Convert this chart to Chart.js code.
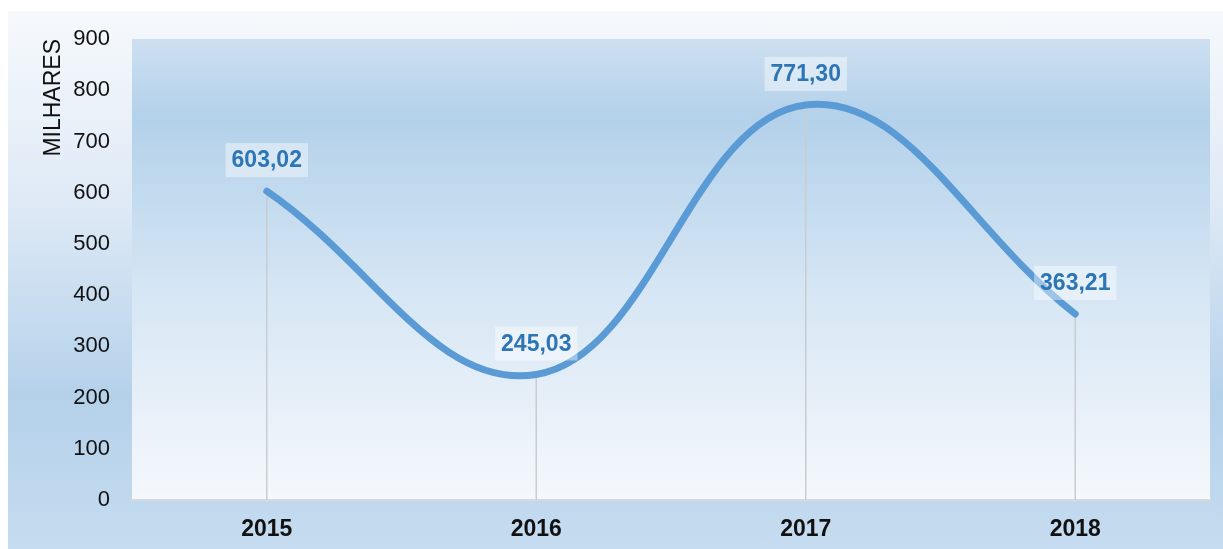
<!DOCTYPE html>
<html>
<head>
<meta charset="utf-8">
<script src="https://cdn.jsdelivr.net/npm/chart.js@4/dist/chart.umd.min.js"></script>
<style>
    html, body { margin: 0; padding: 0; background: #ffffff; }
    #wrap {
        position: absolute; left: 8px; top: 11px; width: 1215px; height: 538px;
        background: linear-gradient(to bottom, #f6f9fc 0%, #dfeaf6 35%, #b4d1ea 72%, #c6dcf0 100%);
    }
    canvas { display: block; }
</style>
</head>
<body>
<div id="wrap"><canvas id="chart" width="1215" height="538"></canvas></div>
<script>
// dados
const years = ['2015', '2016', '2017', '2018'];
const values = [603.02, 245.03, 771.30, 363.21];
const yTicks = [0, 100, 200, 300, 400, 500, 600, 700, 800, 900];

const fmt = v => v.toFixed(2).replace('.', ',');

// fundo da área do gráfico
const plotBg = {
    id: 'plotBg',
    beforeDraw(chart) {
        const { ctx, chartArea: a } = chart;
        const g = ctx.createLinearGradient(0, a.top, 0, a.bottom);
        g.addColorStop(0, '#cde0f1');
        g.addColorStop(0.17, '#b3d1ea');
        g.addColorStop(0.55, '#d6e6f4');
        g.addColorStop(1, '#f5f8fc');
        ctx.save();
        ctx.fillStyle = g;
        ctx.fillRect(a.left, a.top, a.right - a.left, a.bottom - a.top);
        ctx.restore();
    }
};

// linhas verticais até o eixo
const dropLines = {
    id: 'dropLines',
    beforeDatasetsDraw(chart) {
        const { ctx, chartArea: a } = chart;
        const meta = chart.getDatasetMeta(0);
        ctx.save();
        ctx.strokeStyle = '#c9ccd0';
        ctx.lineWidth = 1.5;
        meta.data.forEach(p => {
            ctx.beginPath();
            ctx.moveTo(p.x, p.y);
            ctx.lineTo(p.x, a.bottom);
            ctx.stroke();
        });
        ctx.restore();
    }
};

// rótulos de dados
const dataLabels = {
    id: 'dataLabels',
    afterDatasetsDraw(chart) {
        const { ctx } = chart;
        const meta = chart.getDatasetMeta(0);
        ctx.save();
        ctx.font = 'bold 23px "Liberation Sans", Arial, sans-serif';
        ctx.textAlign = 'center';
        ctx.textBaseline = 'middle';
        meta.data.forEach((p, i) => {
            const txt = fmt(values[i]);
            const w = ctx.measureText(txt).width + 12;
            const h = 34;
            const cy = p.y - 31;
            ctx.fillStyle = 'rgba(255,255,255,0.42)';
            ctx.fillRect(p.x - w / 2, cy - h / 2, w, h);
            ctx.fillStyle = '#2e75b6';
            ctx.fillText(txt, p.x, cy + 1);
        });
        ctx.restore();
    }
};

const ctx = document.getElementById('chart').getContext('2d');
new Chart(ctx, {
    type: 'line',
    data: {
        labels: years,
        datasets: [{
            data: values,
            borderColor: '#5b9bd5',
            borderWidth: 7,
            borderCapStyle: 'round',
            tension: 0.4,
            pointRadius: 0,
            fill: false
        }]
    },
    options: {
        responsive: false,
        animation: false,
        layout: { padding: { left: 0, right: 13, top: 28, bottom: 0 } },
        plugins: {
            legend: { display: false },
            tooltip: { enabled: false }
        },
        scales: {
            x: {
                offset: true,
                grid: { display: false, drawTicks: false },
                border: { display: true, color: '#d9d9d9', width: 2 },
                ticks: {
                    padding: 16,
                    color: '#111',
                    font: { family: '"Liberation Sans", Arial', size: 23, weight: 'bold' }
                },
                afterFit: s => { s.height = 49; }
            },
            y: {
                min: 0,
                max: 900,
                afterBuildTicks: s => { s.ticks = yTicks.map(v => ({ value: v })); },
                grid: { display: false, drawTicks: false },
                border: { display: false },
                ticks: {
                    padding: 22,
                    color: '#111',
                    font: { family: '"Liberation Sans", Arial', size: 22 }
                },
                title: {
                    display: true,
                    text: 'MILHARES',
                    align: 'end',
                    color: '#111',
                    padding: { top: 32, bottom: 0 },
                    font: { family: '"Liberation Sans", Arial', size: 23 }
                },
                afterFit: s => {
                    s.width = 124;
                    s.paddingTop = 0;
                    s.paddingBottom = 0;
                }
            }
        }
    },
    plugins: [plotBg, dropLines, dataLabels]
});
</script>
</body>
</html>
